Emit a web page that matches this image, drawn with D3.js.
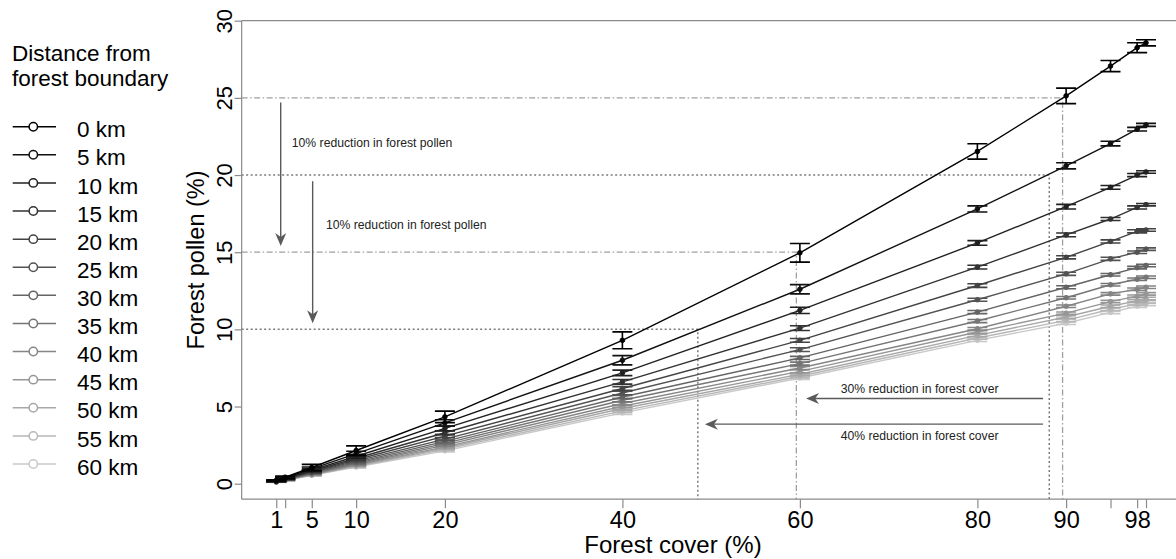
<!DOCTYPE html>
<html>
<head>
<meta charset="utf-8">
<script src="https://cdn.jsdelivr.net/npm/d3@7"></script>
<style>
  html, body { margin: 0; padding: 0; background: #fff; }
  svg { display: block; font-family: "Liberation Sans", Arial, sans-serif; }
</style>
</head>
<body>
<svg id="chart" width="1176" height="559"></svg>
<script>
// ---------------- data ----------------
const forestCover = [1, 2, 5, 10, 20, 40, 60, 80, 90, 95, 98, 99];
const xTickValues = [1, 2, 5, 10, 20, 40, 60, 80, 90, 95, 98, 99];
const xTickLabels = ["1", "", "5", "10", "20", "40", "60", "80", "90", "", "98", ""];
const yTickValues = [0, 5, 10, 15, 20, 25, 30];
const distances = ["0 km", "5 km", "10 km", "15 km", "20 km", "25 km", "30 km",
                   "35 km", "40 km", "45 km", "50 km", "55 km", "60 km"];

const km0  = [0.21, 0.42, 1.05, 2.15, 4.33, 9.29, 14.96, 21.53, 25.13, 27.06, 28.25, 28.57];
const km5  = [0.19, 0.38, 0.96, 1.95, 3.94, 8.00, 12.60, 17.80, 20.60, 22.04, 22.97, 23.25];
const km10 = [0.17, 0.35, 0.88, 1.78, 3.58, 7.18, 11.23, 15.60, 17.95, 19.20, 20.00, 20.20];
const km15 = [0.16, 0.32, 0.82, 1.65, 3.30, 6.60, 10.08, 14.03, 16.12, 17.15, 17.90, 18.08];
const km20 = [0.15, 0.30, 0.77, 1.55, 3.08, 6.17, 9.29, 12.84, 14.67, 15.70, 16.35, 16.44];
const km25 = [0.14, 0.29, 0.73, 1.46, 2.89, 5.88, 8.69, 11.92, 13.60, 14.57, 15.00, 15.20];
const km30 = [0.135, 0.27, 0.69, 1.38, 2.74, 5.62, 8.15, 11.12, 12.73, 13.54, 14.00, 14.14];
const km35 = [0.13, 0.26, 0.66, 1.32, 2.61, 5.41, 7.78, 10.54, 12.05, 12.89, 13.25, 13.38];
const km40 = [0.125, 0.25, 0.63, 1.26, 2.50, 5.20, 7.50, 10.04, 11.50, 12.30, 12.60, 12.73];
const km45 = [0.12, 0.24, 0.60, 1.21, 2.39, 5.02, 7.28, 9.83, 11.05, 11.80, 12.15, 12.30];
const km50 = [0.115, 0.23, 0.58, 1.16, 2.31, 4.87, 7.09, 9.61, 10.80, 11.50, 11.85, 12.00];
const km55 = [0.11, 0.22, 0.56, 1.12, 2.22, 4.72, 6.96, 9.44, 10.58, 11.30, 11.65, 11.77];
const km60 = [0.105, 0.21, 0.54, 1.08, 2.13, 4.59, 6.85, 9.29, 10.40, 11.10, 11.50, 11.62];

const err0  = [0.05, 0.08, 0.20, 0.30, 0.37, 0.55, 0.60, 0.50, 0.50, 0.36, 0.32, 0.20];
const err5  = [0.04, 0.06, 0.12, 0.15, 0.20, 0.30, 0.30, 0.20, 0.20, 0.15, 0.12, 0.10];
const err10 = [0.03, 0.05, 0.10, 0.12, 0.15, 0.18, 0.20, 0.15, 0.15, 0.12, 0.10, 0.08];
const err15 = [0.03, 0.04, 0.08, 0.10, 0.12, 0.15, 0.15, 0.12, 0.12, 0.10, 0.10, 0.08];
const err20 = [0.02, 0.04, 0.07, 0.09, 0.10, 0.12, 0.12, 0.12, 0.10, 0.10, 0.10, 0.08];
const err25 = [0.02, 0.03, 0.06, 0.08, 0.10, 0.12, 0.12, 0.10, 0.10, 0.10, 0.08, 0.08];
const err30 = [0.02, 0.03, 0.06, 0.08, 0.10, 0.10, 0.10, 0.10, 0.10, 0.08, 0.08, 0.08];
const err35 = [0.02, 0.03, 0.05, 0.07, 0.08, 0.10, 0.10, 0.10, 0.08, 0.08, 0.08, 0.08];
const err40 = [0.02, 0.03, 0.05, 0.07, 0.08, 0.10, 0.10, 0.08, 0.08, 0.08, 0.08, 0.08];
const err45 = [0.02, 0.03, 0.05, 0.06, 0.08, 0.10, 0.10, 0.08, 0.08, 0.08, 0.08, 0.08];
const err50 = [0.02, 0.03, 0.05, 0.06, 0.08, 0.10, 0.10, 0.08, 0.08, 0.08, 0.08, 0.08];
const err55 = [0.02, 0.03, 0.05, 0.06, 0.08, 0.10, 0.10, 0.08, 0.08, 0.08, 0.08, 0.08];
const err60 = [0.02, 0.03, 0.05, 0.06, 0.08, 0.10, 0.10, 0.08, 0.08, 0.08, 0.08, 0.08];

const seriesValues = [km0, km5, km10, km15, km20, km25, km30, km35, km40, km45, km50, km55, km60];
const seriesErrors = [err0, err5, err10, err15, err20, err25, err30, err35, err40, err45, err50, err55, err60];

// reference guide lines (data units)
const guideDashDot = [{x: 89.6, y: 25}, {x: 59.6, y: 15}];
const guideDotted  = [{x: 88.1, y: 20}, {x: 48.5, y: 10}];
// arrows (data units)
const vArrows = [{x: 1.5, y1: 24.7, y2: 15.4}, {x: 5.1, y1: 19.6, y2: 10.4}];
const hArrows = [{y: 5.52, x1: 87.4, x2: 60.7}, {y: 3.86, x1: 87.4, x2: 49.3}];
const notes = [
  {x: 2.75, y: 22.07, text: "10% reduction in forest pollen"},
  {x: 6.6,  y: 16.79, text: "10% reduction in forest pollen"},
  {x: 64.6, y: 6.17,  text: "30% reduction in forest cover"},
  {x: 64.6, y: 3.08,  text: "40% reduction in forest cover"}
];

// ---------------- drawing ----------------
const svg = d3.select("#chart");
const x = d3.scaleLinear().domain([0, 99]).range([267.4, 1146]);
const y = d3.scaleLinear().domain([0, 30]).range([483.7, 20.7]);
const grey = d3.scaleLinear().domain([0, distances.length - 1]).range(["#000000", "#c8c8c8"]);

const axisColor = "#8a8a8a";
const frameLeft = x(-2.9), frameBottom = y(-1), frameTop = y(30), frameRight = 1176;

// guide lines
const guides = svg.append("g");
guideDashDot.forEach(g => {
  guides.append("path")
    .attr("d", `M${frameLeft},${y(g.y)}H${x(g.x)}V${frameBottom}`)
    .attr("fill", "none").attr("stroke", "#a0a0a0").attr("stroke-width", 1.3)
    .attr("stroke-dasharray", "6,2.5,1.5,2.5");
});
guideDotted.forEach(g => {
  guides.append("path")
    .attr("d", `M${frameLeft},${y(g.y)}H${x(g.x)}V${frameBottom}`)
    .attr("fill", "none").attr("stroke", "#7a7a7a").attr("stroke-width", 1.5)
    .attr("stroke-dasharray", "2,2.5");
});

// frame
const frame = svg.append("g").attr("stroke", axisColor).attr("stroke-width", 1.2).attr("fill", "none");
frame.append("line").attr("x1", frameLeft).attr("x2", frameLeft).attr("y1", frameTop).attr("y2", frameBottom);
frame.append("line").attr("x1", frameLeft).attr("x2", frameRight).attr("y1", frameBottom).attr("y2", frameBottom);
frame.append("line").attr("x1", frameLeft).attr("x2", frameRight).attr("y1", frameTop).attr("y2", frameTop);

// y axis
const yAxisG = svg.append("g").attr("transform", `translate(${frameLeft},0)`)
  .call(d3.axisLeft(y).tickValues(yTickValues).tickSize(7).tickFormat(d3.format("d")));
yAxisG.select(".domain").remove();
yAxisG.selectAll(".tick line").attr("stroke", axisColor).attr("stroke-width", 1.2);
yAxisG.selectAll(".tick text")
  .attr("transform", "rotate(-90)")
  .attr("x", 0).attr("y", -10).attr("dy", 0)
  .attr("text-anchor", "middle")
  .attr("fill", "#000")
  .style("font-size", "22px")
  .style("font-family", "'Liberation Sans', Arial, sans-serif");

// x axis
const xAxisG = svg.append("g").attr("transform", `translate(0,${frameBottom})`)
  .call(d3.axisBottom(x).tickValues(xTickValues).tickSize(9)
    .tickFormat((d, i) => xTickLabels[i]));
xAxisG.select(".domain").remove();
xAxisG.selectAll(".tick line").attr("stroke", axisColor).attr("stroke-width", 1.2);
xAxisG.selectAll(".tick text")
  .attr("y", 29).attr("dy", 0)
  .attr("fill", "#000")
  .style("font-size", "23.5px")
  .style("font-family", "'Liberation Sans', Arial, sans-serif");

// axis titles
svg.append("text").attr("x", 673).attr("y", 553).attr("text-anchor", "middle")
  .style("font-size", "24px").text("Forest cover (%)");
svg.append("text").attr("transform", `translate(204,${(frameTop + frameBottom) / 2}) rotate(-90)`)
  .attr("text-anchor", "middle").style("font-size", "23.5px").text("Forest pollen (%)");

// series (lightest first)
const line = d3.line().x((d, i) => x(forestCover[i])).y(d => y(d));
const plot = svg.append("g");
for (let s = seriesValues.length - 1; s >= 0; s--) {
  const vals = seriesValues[s], errs = seriesErrors[s], col = grey(s);
  const g = plot.append("g");
  g.append("path").datum(vals).attr("d", line)
    .attr("fill", "none").attr("stroke", col).attr("stroke-width", 1.4);
  vals.forEach((v, i) => {
    const cx = x(forestCover[i]);
    const top = y(v + errs[i]), bot = y(v - errs[i]);
    g.append("path")
      .attr("d", `M${cx},${top}V${bot}M${cx - 10},${top}H${cx + 10}M${cx - 10},${bot}H${cx + 10}`)
      .attr("fill", "none").attr("stroke", col).attr("stroke-width", 1.6);
    g.append("circle").attr("cx", cx).attr("cy", y(v)).attr("r", 2.3)
      .attr("fill", col).attr("stroke", col).attr("stroke-width", 1);
  });
}

// arrows
const arrowColor = "#5a5a5a";
function arrowHead(tx, ty, dir) {
  const L = 13, W = 5.5, N = 9;
  const bx = tx - dir[0] * L, by = ty - dir[1] * L;
  const nx = tx - dir[0] * N, ny = ty - dir[1] * N;
  const px = -dir[1], py = dir[0];
  return `M${tx},${ty}L${bx + px * W},${by + py * W}L${nx},${ny}L${bx - px * W},${by - py * W}Z`;
}
const arrows = svg.append("g");
vArrows.forEach(a => {
  arrows.append("line").attr("x1", x(a.x)).attr("x2", x(a.x)).attr("y1", y(a.y1)).attr("y2", y(a.y2) - 8)
    .attr("stroke", arrowColor).attr("stroke-width", 1.4);
  arrows.append("path").attr("d", arrowHead(x(a.x), y(a.y2), [0, 1])).attr("fill", arrowColor);
});
hArrows.forEach(a => {
  arrows.append("line").attr("x1", x(a.x1)).attr("x2", x(a.x2) + 8).attr("y1", y(a.y)).attr("y2", y(a.y))
    .attr("stroke", arrowColor).attr("stroke-width", 1.4);
  arrows.append("path").attr("d", arrowHead(x(a.x2), y(a.y), [-1, 0])).attr("fill", arrowColor);
});
notes.forEach(n => {
  svg.append("text").attr("x", x(n.x)).attr("y", y(n.y)).attr("dy", "0.35em")
    .style("font-size", "12.2px").attr("fill", "#222").text(n.text);
});

// legend
const legend = svg.append("g");
legend.append("text").attr("x", 12).attr("y", 61).style("font-size", "22.5px").text("Distance from");
legend.append("text").attr("x", 12).attr("y", 86).style("font-size", "22.5px").text("forest boundary");
const legendY = d3.scaleLinear().domain([0, distances.length - 1]).range([126.7, 464]);
distances.forEach((d, i) => {
  const ly = legendY(i), col = grey(i);
  legend.append("line").attr("x1", 12.7).attr("x2", 56).attr("y1", ly).attr("y2", ly)
    .attr("stroke", col).attr("stroke-width", 1.5);
  legend.append("circle").attr("cx", 33.3).attr("cy", ly).attr("r", 4.2)
    .attr("fill", "#fff").attr("stroke", col).attr("stroke-width", 1.5);
  legend.append("text").attr("x", 77).attr("y", ly + 5).attr("dy", "0.25em")
    .style("font-size", "22.5px").text(d);
});
</script>
</body>
</html>
